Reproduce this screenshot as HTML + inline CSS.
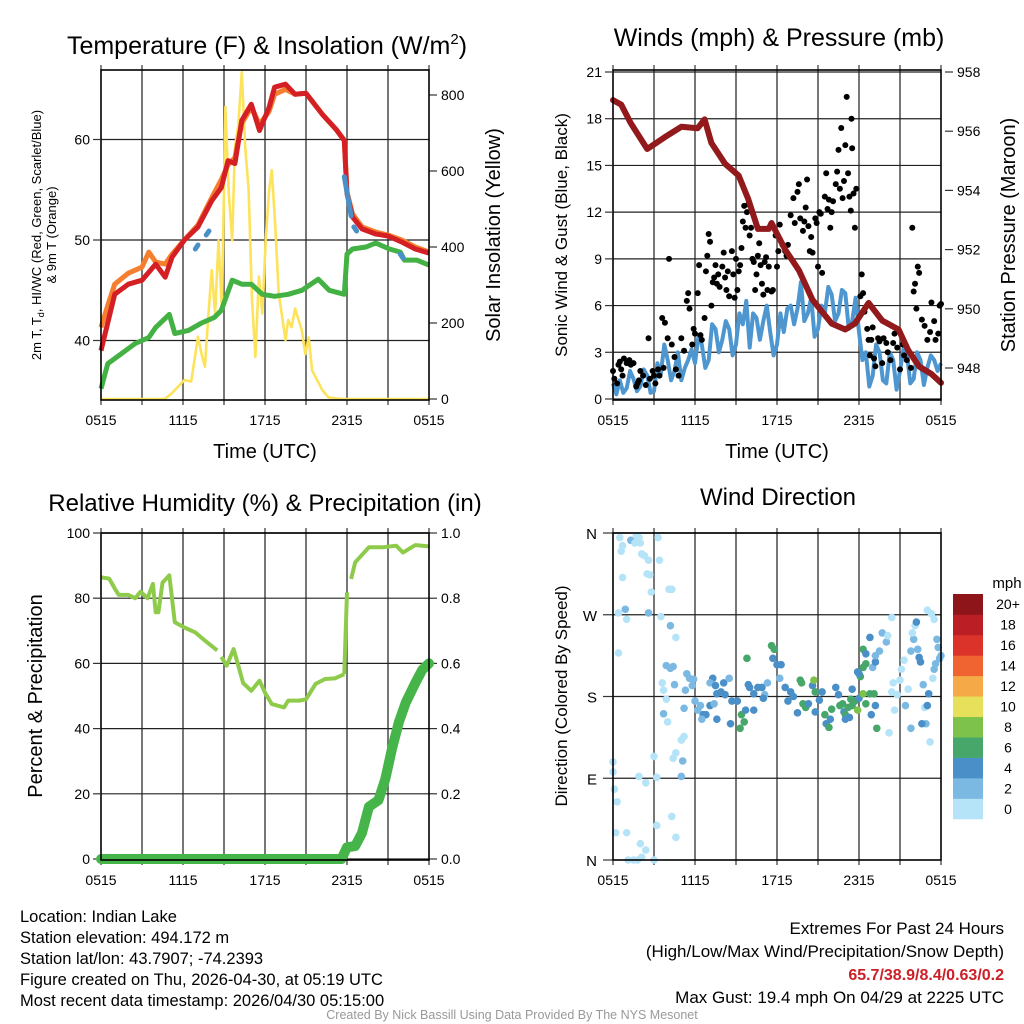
<!DOCTYPE html>
<html><head><meta charset="utf-8"><style>
html,body{margin:0;padding:0;background:#fff;}
svg{display:block;font-family:"Liberation Sans",sans-serif;}
</style></head><body>
<svg id="fig" width="1024" height="1024" viewBox="0 0 1024 1024" xmlns="http://www.w3.org/2000/svg">
<rect x="0" y="0" width="1024" height="1024" fill="#fff"/>
<g id="layer"></g>
<g id="texts" font-family="Liberation Sans, sans-serif" fill="#000">
<text x="267" y="54" font-size="25" text-anchor="middle">Temperature (F) &amp; Insolation (W/m<tspan font-size="15" dy="-10">2</tspan><tspan dy="10">)</tspan></text>
<text x="779" y="46" font-size="25" text-anchor="middle">Winds (mph) &amp; Pressure (mb)</text>
<text x="265" y="511" font-size="24" text-anchor="middle">Relative Humidity (%) &amp; Precipitation (in)</text>
<text x="778" y="505" font-size="24" text-anchor="middle">Wind Direction</text>
<text transform="translate(41,235) rotate(-90)" font-size="13" text-anchor="middle">2m T, T<tspan font-size="9" dy="3">d</tspan><tspan dy="-3">, HI/WC (Red, Green, Scarlet/Blue)</tspan></text>
<text transform="translate(56,235) rotate(-90)" font-size="13" text-anchor="middle">&amp; 9m T (Orange)</text>
<text transform="translate(500,235) rotate(-90)" font-size="20" text-anchor="middle">Solar Insolation (Yellow)</text>
<text transform="translate(567,235) rotate(-90)" font-size="17" text-anchor="middle">Sonic Wind &amp; Gust (Blue, Black)</text>
<text transform="translate(1015,235) rotate(-90)" font-size="20" text-anchor="middle">Station Pressure (Maroon)</text>
<text transform="translate(42,696) rotate(-90)" font-size="20" text-anchor="middle">Percent &amp; Precipitation</text>
<text transform="translate(567,696) rotate(-90)" font-size="17" text-anchor="middle">Direction (Colored By Speed)</text>
<text x="265" y="458" font-size="20" text-anchor="middle">Time (UTC)</text>
<text x="777" y="458" font-size="20" text-anchor="middle">Time (UTC)</text>
<text x="1007" y="588" font-size="15" text-anchor="middle">mph</text>
<g font-size="16.5">
<text x="20" y="922">Location: Indian Lake</text>
<text x="20" y="943">Station elevation: 494.172 m</text>
<text x="20" y="964">Station lat/lon: 43.7907; -74.2393</text>
<text x="20" y="985">Figure created on Thu, 2026-04-30, at 05:19 UTC</text>
<text x="20" y="1006">Most recent data timestamp: 2026/04/30 05:15:00</text>
</g>
<g font-size="17" text-anchor="end">
<text x="1004" y="934">Extremes For Past 24 Hours</text>
<text x="1004" y="957">(High/Low/Max Wind/Precipitation/Snow Depth)</text>
<text x="1004" y="980" fill="#cc2028" font-weight="bold" font-size="16">65.7/38.9/8.4/0.63/0.2</text>
<text x="1004" y="1003">Max Gust: 19.4 mph On 04/29 at 2225 UTC</text>
</g>
<text x="512" y="1019" font-size="12.5" fill="#999" text-anchor="middle">Created By Nick Bassill Using Data Provided By The NYS Mesonet</text>
</g>
</svg>
<script>
const xTickLabels=["0515","1115","1715","2315","0515"];
const tempTicks=[40,50,60];
const solarTicks=[0,200,400,600,800];
const windTicks=[0,3,6,9,12,15,18,21];
const presTicks=[948,950,952,954,956,958];
const rhTicks=[0,20,40,60,80,100];
const precTicks=["0.0","0.2","0.4","0.6","0.8","1.0"];
const dirTickLabels=["N","W","S","E","N"];
const cbLabels=["0","2","4","6","8","10","12","14","16","18","20+"];
const cbColors=["#b5e3f8","#7bb9e3","#4a8fc7","#47a76b","#7cc24b","#e6e05a","#f6aa47","#ef6431","#db3229","#bb1e25","#8e1519"];

const tRedH=[0,1,2,3,4,4.7,5.2,6.1,7.1,8.1,8.8,9.3,9.8,10.3,11,11.6,12.3,12.7,13.5,14.2,15,16.2,17.2,17.8,18,18.4,19.1,20.1,21,22,23,24];
const tRed=[39,44.6,45.6,46,47.6,46.3,48.3,50,51.3,53.9,55.2,57.9,57.6,61.9,63.5,60.9,63.2,65.2,65.5,64.5,64.6,62.5,61,59.9,54.6,52.3,51.1,50.6,50.4,49.8,49.1,48.7];
const tOrgH=[0,0.5,1,2,3,3.5,4,4.7,5.2,6.1,7.1,8.1,8.8,9.3,9.8,10.3,11,11.6,12.3,12.7,13.5,14.2,15,16.2,17.2,17.8,18,18.4,19.1,20.1,21,22,23,24];
const tOrg=[41.3,43.5,45.6,46.7,47.3,48.8,47.8,47.6,48.6,50,51.5,54.2,56,57.5,58.2,61.6,63.2,61.5,62.8,64.5,65,64.5,64.6,62.5,61,59.9,54.8,52.6,51.3,50.8,50.5,50,49.3,48.8];
const tDewH=[0,0.5,1.5,2.5,3.5,4,5,5.4,6.4,7.3,8.3,8.8,9.6,10.3,11,11.8,12.7,13.7,14.7,15.9,16.7,17.8,18,18.4,19.4,20.1,21.1,21.9,22.2,23.1,24];
const tDew=[35.2,37.7,38.7,39.7,40.3,41.3,42.6,40.7,41,41.7,42.3,43,46,45.6,45.6,44.6,44.4,44.6,45,46.1,45,44.6,48.6,49.1,49.3,49.7,49.1,48.8,48,48,47.5];
const wcSegH=[[6.9,7.1],[7.7,7.9],[17.8,18.3],[18.5,18.7],[21.9,22.1]];
const wcSegT=[[49.1,49.5],[50.5,50.9],[56.3,52.4],[51.3,50.9],[48.6,48.2]];
const solH=[0,4.65,5.15,6.1,6.6,7.1,7.35,7.6,7.85,8.1,8.35,8.6,8.85,9.1,9.35,9.6,9.8,10.05,10.3,10.55,10.8,11.05,11.3,11.55,11.8,12.05,12.3,12.5,12.75,13.0,13.25,13.5,13.7,13.95,14.2,14.7,14.95,15.2,15.45,15.7,16.2,16.65,17.6,18.1,24];
const solV=[0,0,14,50,46,164,120,85,217,339,225,417,234,769,541,417,662,721,860,662,552,260,111,322,225,417,549,602,454,278,217,155,208,189,238,180,118,162,75,58,23,4,0,0,0];

const windH=[];for(let i=0;i<=96;i++)windH.push(i*0.25);
const windV=[1,0.3,1.2,0.4,0.7,1.8,1.3,0.5,0.8,1.9,1.5,0.4,0.5,2.3,1.6,3.5,2.5,1.2,1.8,3.0,1.2,2.0,2.5,3.2,2.3,4.0,3.5,2.0,2.5,4.8,4.5,3.0,3.8,5.0,4.5,2.8,3.5,5.5,4.8,6.3,3.3,5.5,5.2,3.8,5.0,6.0,4.3,2.8,3.5,5.5,4.3,5.8,6.0,4.8,5.8,7.5,5.0,5.5,6.5,4.0,4.5,6.0,5.5,7.2,6.7,5.0,5.5,7.0,6.8,4.5,5.0,6.5,4.3,2.5,3.0,0.8,1.5,3.5,3.0,1.2,1.0,3.0,2.5,0.6,1.8,3.2,3.0,1.0,1.3,3.0,2.5,0.9,2.0,2.8,2.5,1.8,2.3];
const presH=[0,0.6,1.3,2.5,3.8,5,6.2,6.7,7.2,8.2,9.2,9.9,10.6,11.4,11.6,12.6,13.6,14.6,16,17,17.7,18.7,19.7,20.9,21.6,22.4,23.3,24];
const presV=[957.05,956.9,956.27,955.4,955.8,956.15,956.1,956.4,955.6,954.9,954.5,953.7,952.7,952.7,952.9,952,951.3,950.3,949.5,949.3,949.5,950.2,949.6,949.3,948.6,948.05,947.8,947.5];
const gustH=[0,0.1,0.3,0.4,0.5,0.6,0.7,0.8,1.0,1.2,1.3,1.5,1.7,1.8,1.9,2.0,2.2,2.4,2.6,2.7,2.9,3.0,3.1,3.3,3.4,3.6,3.7,3.8,4.0,4.1,4.3,4.5,4.6,4.8,5.0,5.2,5.4,5.5,5.6,5.8,5.9,6.0,6.2,6.3,6.4,6.5,6.7,6.8,6.9,7.0,7.1,7.2,7.3,7.4,7.5,7.6,7.7,7.8,8.0,8.1,8.2,8.3,8.4,8.5,8.7,8.8,8.9,9.0,9.1,9.2,9.3,9.4,9.5,9.6,9.7,9.8,9.9,10.0,10.1,10.2,10.3,10.4,10.5,10.6,10.7,10.8,10.9,11.0,11.1,11.2,11.3,11.4,11.6,11.7,11.9,12.0,12.1,12.2,12.4,12.6,12.7,12.8,13.0,13.2,13.3,13.5,13.6,13.7,13.9,14.0,14.1,14.2,14.3,14.4,14.5,14.6,14.8,14.9,15.0,15.1,15.2,15.3,15.5,15.6,15.7,15.8,15.9,16.0,16.1,16.3,16.4,16.5,16.6,16.7,16.8,16.9,17.0,17.1,17.2,17.3,17.4,17.45,17.5,17.6,17.7,17.8,18.1,18.2,18.3,18.4,18.6,18.7,18.8,18.9,19.0,19.1,19.2,19.4,19.5,19.7,19.8,20.0,20.1,20.3,20.5,20.6,20.8,21.0,21.2,21.3,21.5,21.8,21.9,22.0,22.1,22.2,22.3,22.4,22.6,22.8,23.0,23.2,23.3,23.5,23.6,23.8,23.9,24.0];
const gustV=[1.8,1.3,1.0,2.2,2.4,1.9,1.5,2.6,2.3,2.5,2.2,2.3,0.8,1.0,1.2,1.8,1.5,0.9,3.9,1.3,1.8,1.5,1.0,1.9,1.5,5.2,2.0,4.9,3.9,9.0,3.5,2.7,1.9,1.5,3.9,3.1,6.3,6.8,5.8,3.5,4.5,4.2,6.8,8.6,4.1,3.8,5.2,8.2,9.2,10.6,10.1,6.0,7.5,7.8,8.6,7.4,8.0,7.2,8.5,9.4,7.8,7.0,8.2,6.6,9.5,8.0,6.5,9.0,7.0,8.2,8.6,9.7,11.4,12.4,11.0,12.0,12.5,10.5,11.0,9.0,8.8,7.0,8.0,9.2,10.0,8.6,7.4,6.7,8.8,9.1,7.0,8.5,6.9,7.0,10.5,8.5,9.5,11.2,9.9,9.5,9.2,9.9,11.8,12.9,11.3,13.3,13.8,11.6,10.8,11.4,12.3,14.1,11.1,9.5,10.4,9.4,11.6,11.3,8.5,12.0,11.9,8.1,13.0,14.5,12.2,12.8,11.0,12.0,12.7,13.8,14.6,16.0,13.5,17.4,12.9,14.0,16.3,19.4,14.5,13.0,12.1,18.0,16.1,13.2,11.0,13.5,6.6,8.0,6.8,5.6,4.5,3.8,2.8,3.8,4.6,2.6,2.1,3.9,3.7,2.3,3.9,3.6,3.0,2.5,3.6,4.2,3.3,1.9,3.5,2.8,2.5,2.0,11.0,6.9,7.4,5.8,8.5,8.1,5.1,4.7,3.8,4.3,6.2,5.0,3.8,4.2,6.0,6.1];

const rhH=[0,0.6,1,1.3,2,2.5,2.9,3.4,3.8,4,4.2,4.5,5,5.4,6.1,6.9,7.6,8.5];
const rhV=[86.4,86,83,81,81,80,82,80,84.4,75.7,75.7,84.8,87,72.6,71,69.5,67,64];
const rhH2=[8.8,9.2,9.7,10,10.4,11,11.6,12,12.5,13.4,13.7,14.5,15,15.7,16.4,17.1,17.8];
const rhV2=[62,59.3,64.4,60,54,51.6,54.7,51,47.5,46.5,48.6,48.6,49,53.7,55.2,55.4,56.7];
const rhH3=[18.0];const rhV3=[81.8];
const rhH4=[18.3,18.6,19.6,20.6,21.6,22.1,23,24];
const rhV4=[85.9,91,95.6,95.6,96.1,94,96.3,95.9];
const prH=[0,17.6,18.0,18.6,19.1,19.6,20.3,20.8,21.3,21.8,22.3,23.0,23.5,24];
const prV=[0,0,0.036,0.04,0.08,0.16,0.18,0.245,0.34,0.42,0.48,0.54,0.58,0.6];

const dirH=[0.5,0.6,0.7,1.3,1.6,1.7,1.9,2.0,2.1,2.3,2.6,2.7,2.5,0.7,0.4,0.9,1.0,2.6,2.8,3.3,3.4,3.5,4.1,4.3,4.6,4.2,0.4,0,0,0.1,0.3,0.2,1.0,1.1,1.5,1.8,2.1,2.4,3.0,3.2,2.0,3.2,1.9,2.4,3.0,4.3,4.6,4.6,5.1,5.0,5.0,5.2,4.4,3.9,4.2,4.4,3.6,3.7,3.9,4.5,3.7,4.0,5.3,5.2,5.4,5.8,5.9,5.6,6.0,6.2,6.4,6.6,6.8,6.5,7.1,7.4,7.6,7.3,7.1,7.5,7.6,7.9,8.2,8.1,8.5,8.7,8.6,9.1,9.3,9.4,9.6,9.7,9.8,9.9,10.0,10.3,10.3,10.6,10.9,11.1,11.3,11.0,11.6,11.8,11.7,12.0,12.3,12.2,12.6,12.8,13.0,13.2,13.5,13.7,13.8,13.9,14.1,14.3,14.6,14.7,14.8,14.8,15.1,15.3,15.5,15.6,15.8,15.9,16.0,16.3,16.5,16.6,16.8,16.9,17.0,17.3,17.5,17.4,17.7,17.9,18.0,18.3,18.5,18.8,18.9,19.1,19.2,19.3,17.0,17.2,17.5,17.9,18.1,18.3,18.5,18.0,18.3,18.5,18.8,19.0,19.2,19.5,19.7,20.0,20.1,19.2,20.4,20.5,20.2,20.6,20.8,21.0,21.1,21.3,21.4,21.6,21.8,22.0,22.1,22.3,22.5,22.7,22.8,22.9,23.0,23.1,22.6,23.4,23.5,23.7,23.8,24.0,23.3,23.5,22.2,21.9,23.6,23.9,22.4,23.0,23.2,21.8,20.4];
const dirV=[355,340,346,352,349,357,355,349,337,335,330,314,315,311,272,276,265,272,295,355,330,268,298,298,245,258,228,108,97,78,64,30,30,0,0,0,3,11,0,38,18,91,92,85,114,48,25,118,109,92,132,136,112,214,211,213,195,187,177,193,161,152,187,167,205,192,199,200,175,165,170,160,160,155,170,172,155,200,195,192,183,185,182,195,200,175,150,175,145,160,152,165,222,193,190,183,165,190,190,182,195,178,236,232,222,215,215,200,190,175,185,180,162,198,195,172,168,172,192,198,185,163,176,185,160,150,146,155,166,190,182,170,172,163,160,157,170,177,175,165,178,183,172,183,160,183,170,145,155,168,188,207,202,212,216,205,232,227,245,212,218,230,250,240,247,225,185,195,140,165,182,198,210,220,170,188,230,243,258,232,218,193,168,150,170,183,150,200,210,243,234,225,271,265,262,250,216,222,223,275,130,145,267];
const dirS=[1,1,1,3,1,1,1,1,1,1,1,1,1,1,1,3,1,3,1,1,1,1,1,1,1,3,1,1,1,1,1,1,1,1,1,1,1,1,1,1,1,1,1,1,1,1,1,1,3,3,1,1,1,3,3,3,1,1,1,3,3,1,3,3,3,3,3,3,3,3,3,5,5,3,5,3,5,5,3,5,5,5,5,5,3,5,5,5,7,7,7,5,7,5,5,5,5,5,5,3,3,5,7,7,5,5,5,3,5,5,5,5,5,7,7,7,7,5,5,9,7,5,5,5,7,5,7,5,7,5,5,7,7,5,7,5,7,7,7,9,5,9,7,7,5,7,5,7,5,7,5,5,7,7,7,5,7,5,5,3,5,3,3,3,1,3,1,1,1,1,1,1,1,1,3,1,3,3,1,3,5,3,1,3,5,5,5,1,3,3,3,3,1,1,5,1,3,3,5,1,1,3,1];

const NS="http://www.w3.org/2000/svg";
const layer=document.getElementById('layer');
function mk(tag,attrs,parent){const e=document.createElementNS(NS,tag);for(const k in attrs)e.setAttribute(k,attrs[k]);(parent||layer).appendChild(e);return e;}
function grp(name){const g=mk('g',{});return g;}
function lin(d0,d1,r0,r1){return v=>r0+(v-d0)*(r1-r0)/(d1-d0);}
function pathD(xs,ys,fx,fy){let d='';for(let i=0;i<xs.length;i++)d+=(i?'L':'M')+fx(xs[i]).toFixed(1)+','+fy(ys[i]).toFixed(1);return d;}

function frame(name,x0,y0,w,h,hLines){
  const g=grp(name);
  for(let i=1;i<8;i++){const x=x0+w*i/8;const l=mk('line',{x1:x,y1:y0,x2:x,y2:y0+h,stroke:'#555','stroke-width':1.6},g);}
  hLines.forEach(y=>{const l=mk('line',{x1:x0,y1:y,x2:x0+w,y2:y,stroke:'#222','stroke-width':1.2},g);});
  for(let i=0;i<=8;i++){const x=x0+w*i/8;mk('line',{x1:x,y1:y0+h,x2:x,y2:y0+h+5,stroke:'#333','stroke-width':1.2},g);mk('line',{x1:x,y1:y0,x2:x,y2:y0-5,stroke:'#333','stroke-width':1.2},g);}
  for(let i=0;i<5;i++){const t=mk('text',{x:x0+w*i/4,y:y0+h+25,'font-size':14,'text-anchor':'middle'},g);t.textContent=xTickLabels[i];}
  return g;
}
function border(x0,y0,w,h){const r=mk('rect',{x:x0,y:y0,width:w,height:h,fill:'none',stroke:'#000','stroke-width':1.6});}
function ylabels(g,vals,fy,x,anchor){vals.forEach(v=>{const t=mk('text',{x:x,y:fy(+v)+5,'font-size':14,'text-anchor':anchor},g);t.textContent=v;mk('line',{x1:anchor==='end'?x+3:x-12,y1:fy(+v),x2:anchor==='end'?x+10:x-4,y2:fy(+v),stroke:'#333','stroke-width':1.2},g);});}

// Panel 1
{const x0=101,y0=70,w=328,h=330;
 const fx=lin(0,24,x0,x0+w),fy=lin(40,60,340.5,139.5),fs=lin(0,800,399,95);
 const g=frame('temp-panel',x0,y0,w,h,tempTicks.map(fy));
 ylabels(g,tempTicks,fy,90,'end');
 ylabels(g,solarTicks,fs,441,'start');
 const sol=mk('path',{d:pathD(solH,solV,fx,fs),fill:'none',stroke:'#fde35c','stroke-width':2.6,'stroke-linejoin':'round'});
 
 const dw=mk('path',{d:pathD(tDewH,tDew,fx,fy),fill:'none',stroke:'#43b143','stroke-width':5,'stroke-linejoin':'round'});
 
 const og=mk('path',{d:pathD(tOrgH,tOrg,fx,fy),fill:'none',stroke:'#f57f2e','stroke-width':5,'stroke-linejoin':'round'});
 
 const rd=mk('path',{d:pathD(tRedH,tRed,fx,fy),fill:'none',stroke:'#d42024','stroke-width':5,'stroke-linejoin':'round'});
 
 wcSegH.forEach((s,i)=>{const p=mk('path',{d:pathD(s,wcSegT[i],fx,fy),fill:'none',stroke:'#4a90c8','stroke-width':5,'stroke-linecap':'round'});});
 border(x0,y0,w,h);}

// Panel 2
{const x0=613,y0=70,w=328,h=330;
 const fx=lin(0,24,x0,x0+w),fy=lin(0,21,399,72),fp=lin(948,958,368,72);
 const g=frame('wind-panel',x0,y0,w,h,windTicks.map(fy));
 ylabels(g,windTicks,fy,602,'end');
 ylabels(g,presTicks,fp,957,'start');
 const wl=mk('path',{d:pathD(windH,windV,fx,fy),fill:'none',stroke:'#4d96d0','stroke-width':4,'stroke-linejoin':'round'});
 
 const gg=grp('gust-points');
 gustH.forEach((hh,i)=>{const c=mk('circle',{cx:fx(hh),cy:fy(gustV[i]),r:3,fill:'#000'},gg);});
 const pl=mk('path',{d:pathD(presH,presV,fx,fp),fill:'none',stroke:'#931a1c','stroke-width':6,'stroke-linejoin':'round','stroke-linecap':'round'});
 
 border(x0,y0,w,h);}

// Panel 3
{const x0=101,y0=533,w=328,h=327;
 const fx=lin(0,24,x0,x0+w),fy=lin(0,100,859,533),fr=lin(0,1,859,533);
 const g=frame('rh-panel',x0,y0,w,h,rhTicks.map(fy));
 ylabels(g,rhTicks,fy,90,'end');
 ylabels(g,precTicks,fr,441,'start');
 [[rhH,rhV],[rhH2,rhV2],[rhH4,rhV4]].forEach(s=>{const p=mk('path',{d:pathD(s[0],s[1],fx,fy),fill:'none',stroke:'#8fcb4b','stroke-width':4,'stroke-linejoin':'round'});});
 const j=mk('path',{d:`M${fx(17.8)},${fy(rhV2[rhV2.length-1])}L${fx(rhH3[0])},${fy(rhV3[0])}`,fill:'none',stroke:'#8fcb4b','stroke-width':4});
 
 const pr=mk('path',{d:pathD(prH,prV,fx,fr),fill:'none',stroke:'#45b549','stroke-width':10,'stroke-linejoin':'round','stroke-linecap':'round'});
 
 border(x0,y0,w,h);}

// Panel 4
{const x0=613,y0=533,w=328,h=327;
 const fx=lin(0,24,x0,x0+w),fy=lin(0,360,860,533);
 const g=frame('direction-panel',x0,y0,w,h,[360,270,180,90].map(fy));
 dirTickLabels.forEach((l,i)=>{const v=360-i*90;const t=mk('text',{x:597,y:fy(v)+6,'font-size':15,'text-anchor':'end'},g);t.textContent=l;mk('line',{x1:603,y1:fy(v),x2:613,y2:fy(v),stroke:'#333','stroke-width':1.2},g);});
 const pg=grp('direction-points');
 dirH.forEach((hh,i)=>{const idx=Math.min(10,Math.floor(dirS[i]/2));const c=mk('circle',{cx:fx(hh),cy:fy(dirV[i]),r:3.8,fill:cbColors[idx]},pg);});
 border(x0,y0,w,h);
 const cb=grp('speed-colorbar');
 const bh=(819-594)/11;
 cbColors.forEach((c,i)=>{const y=819-(i+1)*bh;const r=mk('rect',{x:953,y:y,width:30,height:bh+0.3,fill:c},cb);const t=mk('text',{x:1008,y:y+bh/2+5,'font-size':14,'text-anchor':'middle'},cb);t.textContent=cbLabels[i];});
}
</script>
</body></html>
